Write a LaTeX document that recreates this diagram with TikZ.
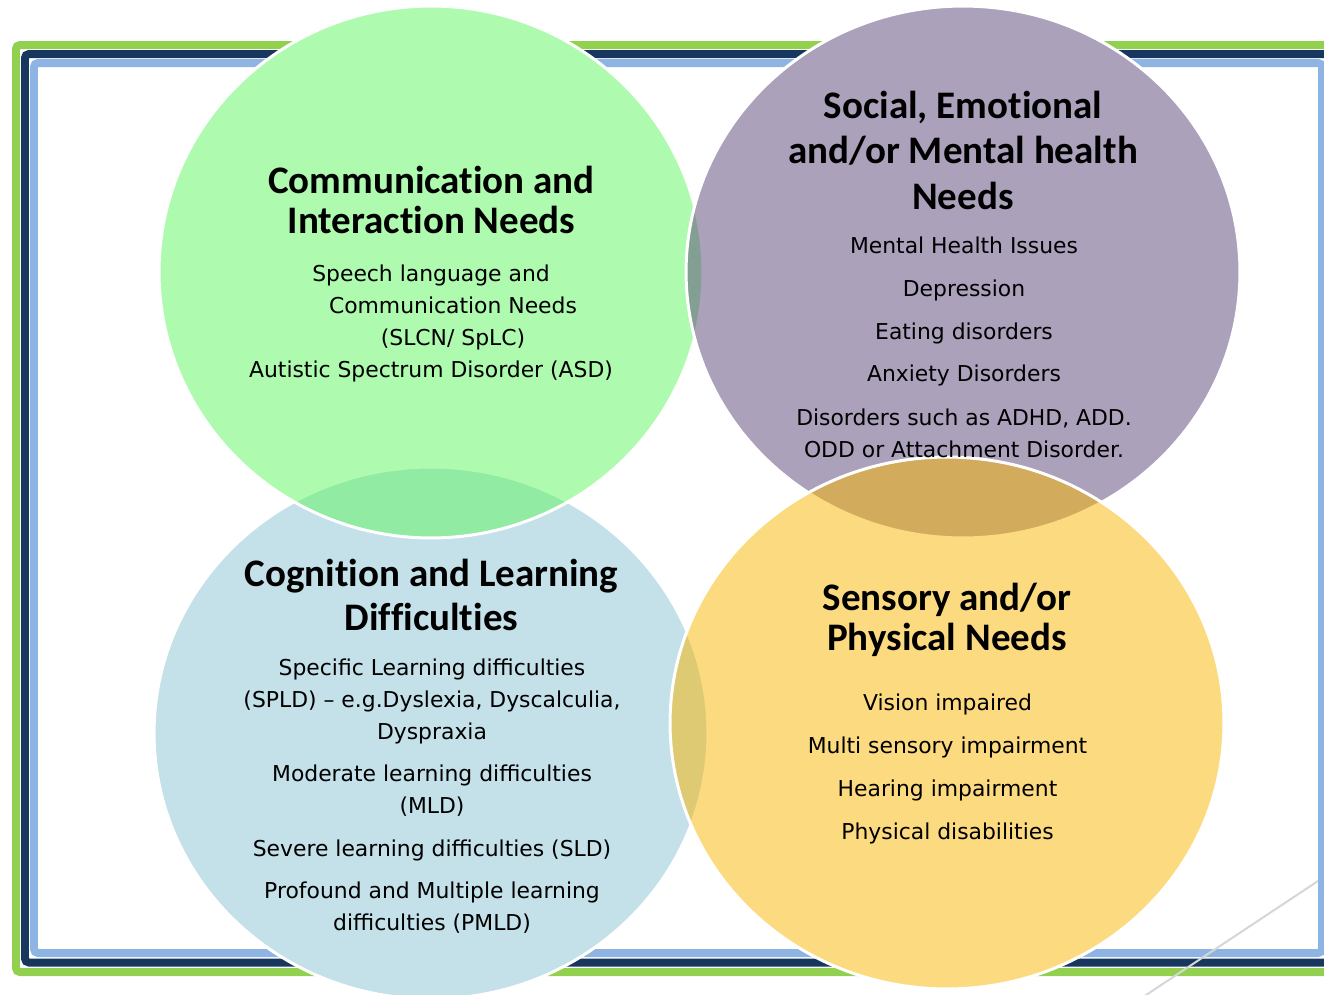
\documentclass[tikz,border=0pt]{standalone}
\usepackage{fontspec}
\setmainfont{DejaVu Sans}
\newfontfamily\headfamily{Carlito}[Ligatures=NoCommon]
\usepackage{tikz}
\usetikzlibrary{positioning}

\definecolor{framegreen}{RGB}{146,208,80}
\definecolor{framenavy}{RGB}{23,55,94}
\definecolor{frameblue}{RGB}{141,180,226}
\definecolor{comgreen}{RGB}{95,247,95}
\definecolor{sempurple}{RGB}{89,69,121}
\definecolor{cogblue}{RGB}{139,195,213}
\definecolor{sensgold}{RGB}{251,182,0}

\begin{document}
\begin{tikzpicture}[x=0.02cm,y=-0.02cm]
  \tikzstyle{band}=[line width=0.16cm,rounded corners=0.08cm]
  \tikzstyle{need}=[draw=white,line width=0.06cm,fill opacity=0.5]
  \tikzstyle{head}=[font=\headfamily\bfseries\fontsize{22.2pt}{22.7pt}\selectfont,align=center,anchor=base,inner sep=0pt]
  \tikzstyle{item}=[font=\fontsize{12.45pt}{18.1pt}\selectfont,align=center,anchor=base,inner sep=0pt]

  \useasboundingbox (0,0) rectangle (1324,994);

  % frame
  \draw [band,framegreen] (1340,45) -- (16,45) -- (16,972) -- (1340,972);
  \draw [band,framenavy] (1340,54) -- (25,54) -- (25,962.5) -- (1340,962.5);
  \draw [band,frameblue] (34,63) rectangle (1322,953);
  \draw [black!16,line width=0.04cm] (1318,881) -- (1140,999);

  % circles
  \begin{scope}
    \fill [white] (431,733) ellipse [x radius=5.54cm,y radius=5.32cm];
    \fill [white] (431,272) ellipse [x radius=5.44cm,y radius=5.32cm];
    \fill [white] (963,272) ellipse [x radius=5.54cm,y radius=5.32cm];
    \fill [white] (947,723) ellipse [x radius=5.54cm,y radius=5.32cm];
    \path [need,fill=cogblue] (431,733) ellipse [x radius=5.54cm,y radius=5.32cm];
    \path [need,fill=comgreen] (431,272) ellipse [x radius=5.44cm,y radius=5.32cm];
    \path [need,fill=sempurple] (963,272) ellipse [x radius=5.54cm,y radius=5.32cm];
    \path [need,fill=sensgold] (947,723) ellipse [x radius=5.54cm,y radius=5.32cm];
  \end{scope}

  % Communication and Interaction
  \node [head] (comhead) at (431.5,233) {Communication and\\Interaction Needs};
  \node [item] (combody) at (431,377) {Speech language and\\
    \hspace*{0.88cm}Communication Needs\\
    \hspace*{0.88cm}(SLCN/ SpLC)\\
    Autistic Spectrum Disorder (ASD)};

  % Social, Emotional and Mental health
  \node [head,font=\headfamily\bfseries\fontsize{22.2pt}{25.8pt}\selectfont] (semhead) at (963,209)
    {Social, Emotional\\and/or Mental health\\Needs};
  \node [item] (semissues) at (964,253) {Mental Health Issues};
  \node [item] (semdepr) at (964,296) {Depression};
  \node [item] (semeat) at (964,339) {Eating disorders};
  \node [item] (semanx) at (964,381) {Anxiety Disorders};
  \node [item] (semadhd) at (964,457) {Disorders such as ADHD, ADD.\\ODD or Attachment Disorder.};

  % Cognition and Learning
  \node [head,font=\headfamily\bfseries\fontsize{22.2pt}{24.9pt}\selectfont] (coghead) at (431.5,630)
    {Cognition and Learning\\Difficulties};
  \node [item] (cogspld) at (432,739) {Specific Learning difficulties\\(SPLD) – e.g.Dyslexia, Dyscalculia,\\Dyspraxia};
  \node [item] (cogmld) at (432,813) {Moderate learning difficulties\\(MLD)};
  \node [item] (cogsld) at (432,856) {Severe learning difficulties (SLD)};
  \node [item] (cogpmld) at (432,930) {Profound and Multiple learning\\difficulties (PMLD)};

  % Sensory and Physical
  \node [head] (senshead) at (947,650) {Sensory and/or\\Physical Needs};
  \node [item] (sensvis) at (947.5,710) {Vision impaired};
  \node [item] (sensmulti) at (947.5,753) {Multi sensory impairment};
  \node [item] (senshear) at (947.5,796) {Hearing impairment};
  \node [item] (sensphys) at (947.5,839) {Physical disabilities};
\end{tikzpicture}
\end{document}
